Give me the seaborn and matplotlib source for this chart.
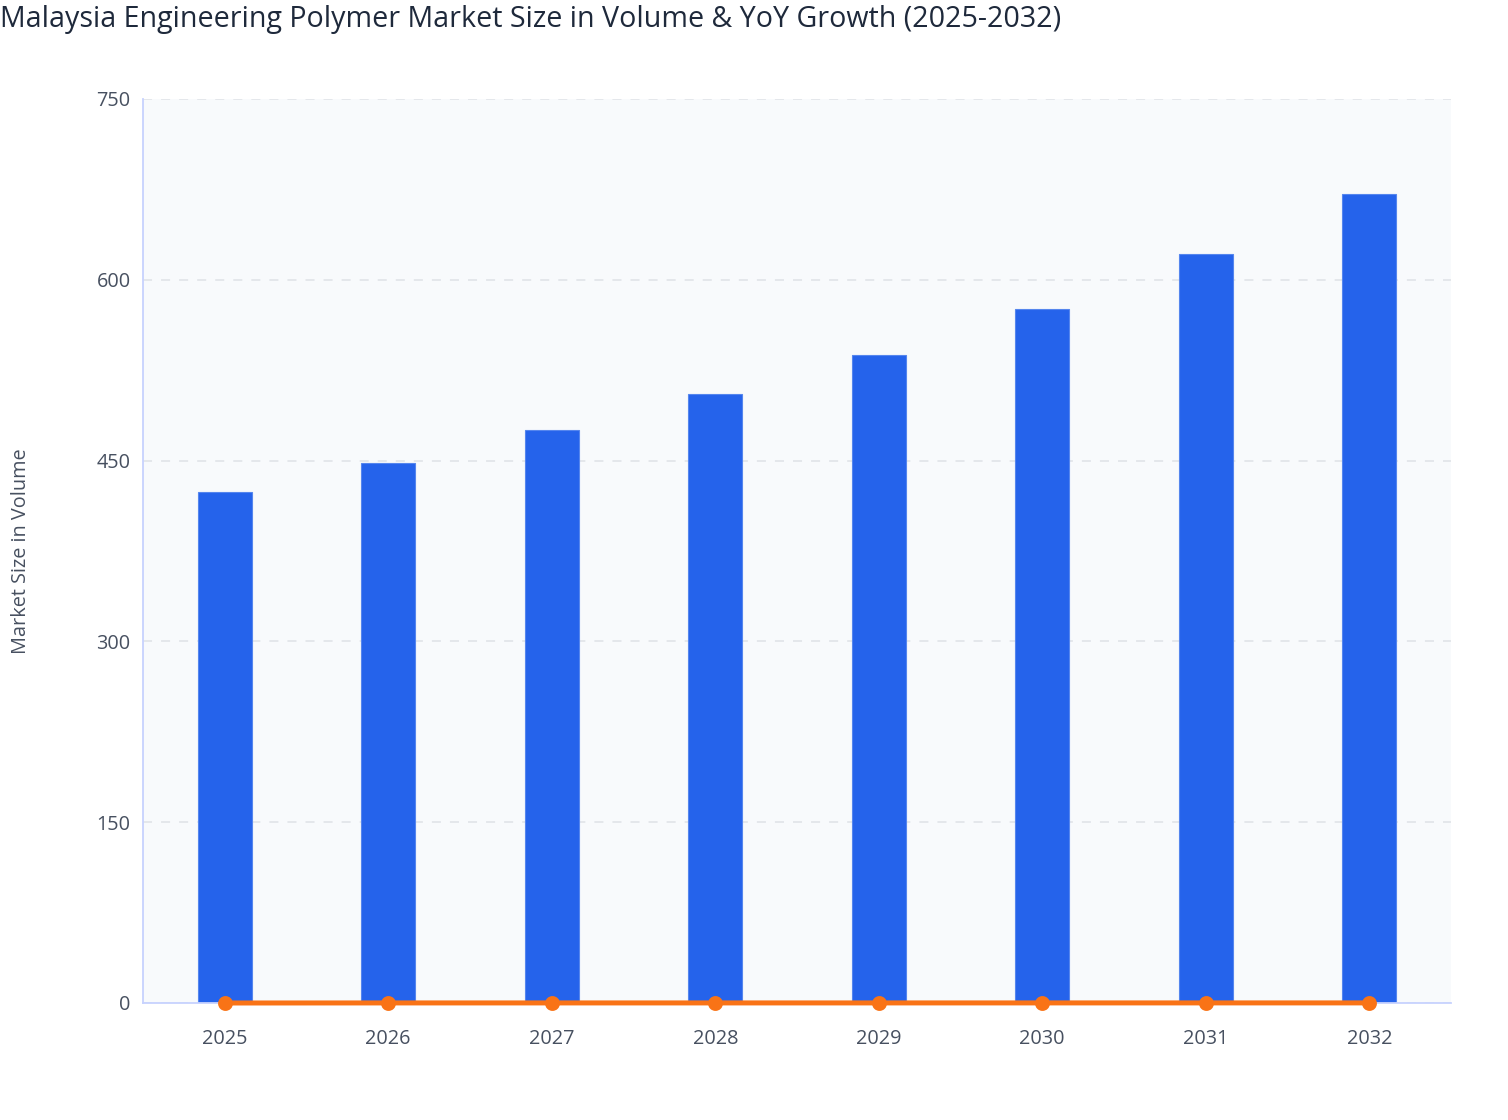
import numpy as np
import pandas as pd
import matplotlib
matplotlib.use("Agg")
import matplotlib.pyplot as plt
import seaborn as sns

# chart data
years = ["2025", "2026", "2027", "2028", "2029", "2030", "2031", "2032"]
volume = [424, 448, 475, 505, 538, 576, 621, 671]
yoy_growth = [0.0, 0.057, 0.060, 0.063, 0.065, 0.071, 0.078, 0.081]
y_ticks = [0, 150, 300, 450, 600, 750]

df = pd.DataFrame({"year": years, "volume": volume, "growth": yoy_growth})

sns.set_theme(style="white")
plt.rcParams["font.family"] = ["Open Sans", "DejaVu Sans"]

fig = plt.figure(figsize=(15.08, 11.2), dpi=100)
ax = fig.add_axes([143 / 1508, 1 - 1003 / 1120, 1308 / 1508, 904 / 1120])
ax.set_facecolor("#f8fafc")

sns.barplot(data=df, x="year", y="volume", color="#2563eb", saturation=1,
            width=0.33, edgecolor="#5586ee", linewidth=0.8, ax=ax, zorder=2)
sns.pointplot(data=df, x="year", y="growth", color="#f97316", markers="o",
              markersize=8, linewidth=3.6, ax=ax, zorder=4)
for ln in ax.lines:
    ln.set_clip_on(False)
for c in ax.collections:
    c.set_clip_on(False)

ax.set_xlim(-0.5, len(years) - 0.5)
ax.set_ylim(0, 750)
ax.set_yticks(y_ticks)
ax.set_yticklabels([str(t) for t in y_ticks])

ax.yaxis.grid(True, color="#e2e5ea", linestyle=(0, (5, 5)), linewidth=1.3)
ax.set_axisbelow(True)

for side in ["top", "right"]:
    ax.spines[side].set_visible(False)
for side in ["left", "bottom"]:
    ax.spines[side].set_color("#c7d2fe")
    ax.spines[side].set_linewidth(1.3)

ax.tick_params(axis="both", colors="#c7d2fe", length=6, width=1.3,
               labelcolor="#475060", labelsize=14.3, pad=3)
ax.tick_params(axis="x", pad=13)
ax.set_xlabel("")
ax.set_ylabel("Market Size in Volume", fontsize=14.3, color="#475060", labelpad=47)

fig.text(0.0, 1 - 19 / 1120, "Malaysia Engineering Polymer Market Size in Volume & YoY Growth (2025-2032)",
         fontsize=20.6, color="#1e293b", ha="left", va="center")

fig.savefig("out.png", dpi=100)
